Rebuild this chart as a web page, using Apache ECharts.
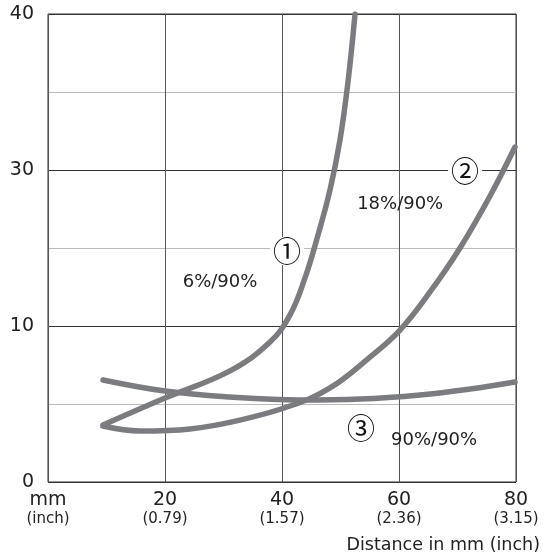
<!DOCTYPE html>
<html>
<head>
<meta charset="utf-8">
<script src="https://cdn.jsdelivr.net/npm/echarts@6/dist/echarts.min.js"></script>
<style>html,body{margin:0;padding:0;background:#fff}#c{width:544px;height:556px}</style>
</head>
<body>
<div id="c"></div>
<script>
// x tick labels (mm and inch)
const xTickMM = ["mm", "20", "40", "60", "80"];
const xTickInch = ["(inch)", "(0.79)", "(1.57)", "(2.36)", "(3.15)"];
// y axis: evenly spaced positions 0,10,20,30 labelled 0,10,30,40
const yTickPos = [0, 10, 20, 30];
const yTickLabels = ["0", "10", "30", "40"];

// curve 1: 6%/90%  [distance mm, axis position]
const curve1 = [[9.4,3.65],[20.0,5.38],[31.11,7.12],[37.95,8.97],[41.37,10.71],[43.93,13.08],[46.15,15.83],[48.21,18.72],[49.91,21.92],[51.28,25.64],[52.48,30.0]];
// curve 2: 18%/90%
const curve2 = [[9.4,3.59],[15.73,3.27],[24.27,3.40],[32.82,3.97],[41.37,4.87],[48.21,6.03],[55.04,8.01],[60.17,9.74],[65.3,12.18],[70.43,15.0],[75.56,18.33],[79.83,21.47]];
// curve 3: 90%/90%
const curve3 = [[9.4,6.54],[20.0,5.83],[31.11,5.45],[43.08,5.26],[53.33,5.32],[63.59,5.58],[72.14,5.96],[79.83,6.41]];

// annotations [x, y, text]
const markers = [[40.85,14.8,"①"],[71.3,19.9,"②"],[53.5,3.46,"③"]];
const texts = [[29.4,12.8,"6%/90%"],[60.2,17.8,"18%/90%"],[66.0,2.69,"90%/90%"]];

const FONT = "DejaVu Sans";
const curveColor = "#7b7c80";
const chart = echarts.init(document.getElementById('c'), null, {renderer:'canvas'});

function curveSeries(d){
  return {type:'line', data:d, smooth:0.4, symbol:'none', z:3,
    lineStyle:{color:curveColor, width:5.5, cap:'round', join:'round'}};
}

chart.setOption({
  animation:false,
  backgroundColor:'#fff',
  grid:{left:48, right:28, top:14, bottom:74, show:true, borderColor:'#333', borderWidth:1},
  xAxis:{type:'value', min:0, max:80, interval:20,
    axisLine:{show:false}, axisTick:{show:false},
    splitLine:{show:true, lineStyle:{color:'#555', width:1}},
    axisLabel:{margin:8, fontFamily:FONT, color:'#222',
      formatter:function(v){const i=Math.round(v/20); return '{a|'+xTickMM[i]+'}\n{b|'+xTickInch[i]+'}';},
      rich:{a:{fontSize:19, lineHeight:20, fontFamily:FONT, color:'#222', align:'center'},
            b:{fontSize:15, lineHeight:19, fontFamily:FONT, color:'#222', align:'center'}}
    }
  },
  yAxis:{type:'value', min:0, max:30, interval:5,
    axisLine:{show:false}, axisTick:{show:false},
    splitLine:{show:true, lineStyle:{color:['#333','#bbb'], width:1}},
    axisLabel:{margin:14, fontSize:19, fontFamily:FONT, color:'#222', padding:[4,0,0,0],
      formatter:function(v){const i=yTickPos.indexOf(v); return i>=0?yTickLabels[i]:'';}}
  },
  graphic:[{type:'text', right:4, bottom:2, style:{text:'Distance in mm (inch)', font:'17.5px "'+FONT+'"', fill:'#222'}}],
  series:[
    curveSeries(curve1), curveSeries(curve2), curveSeries(curve3),
    {type:'scatter', data:markers.map(m=>[m[0],m[1]]), symbolSize:0, z:4, silent:true,
      itemStyle:{opacity:1},
      label:{show:true, position:'inside', formatter:function(p){return markers[p.dataIndex][2];},
        fontSize:28, fontFamily:'Noto Sans CJK JP', color:'#111', backgroundColor:'#fff', padding:[0,3], opacity:1}},
    {type:'scatter', data:texts.map(m=>[m[0],m[1]]), symbolSize:0, z:4, silent:true,
      itemStyle:{opacity:1},
      label:{show:true, position:'inside', formatter:function(p){return texts[p.dataIndex][2];},
        fontSize:18, fontFamily:FONT, color:'#222', opacity:1}}
  ]
});
</script>
</body>
</html>
